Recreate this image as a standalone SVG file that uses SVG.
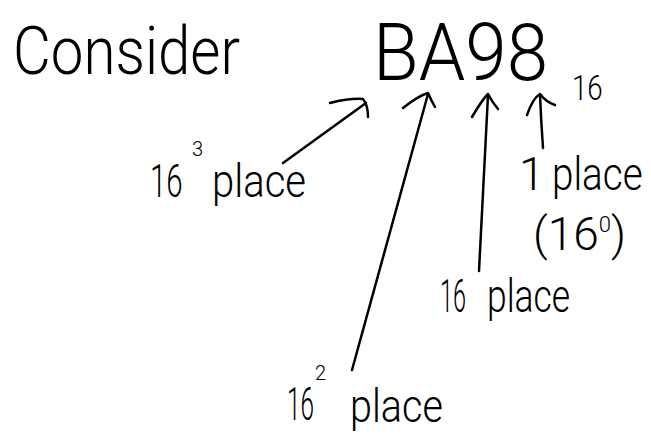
<svg xmlns="http://www.w3.org/2000/svg" width="651" height="445" viewBox="0 0 651 445">
<style>
text{font-family:Roboto,"Liberation Sans",Arial,sans-serif;font-weight:300;fill:#000;}
.big{font-size:46px;}
.sup{font-size:20px;}
.ink{fill:none;stroke:#000;stroke-width:2.5;stroke-linecap:round;stroke-linejoin:round;}
</style>
<rect width="651" height="445" fill="#fff"/>
<g id="consider">
<text x="13" y="74" font-size="66" textLength="227" lengthAdjust="spacingAndGlyphs">Consider</text>
</g>
<g id="number">
<text x="373" y="80" font-size="80" textLength="175" lengthAdjust="spacingAndGlyphs">BA98</text>
<text transform="translate(572 100) scale(0.77 1)" font-size="36">16</text>
</g>
<g id="label-16-3">
<text class="big" transform="translate(150 197) scale(0.64 1)">16</text>
<text class="sup" x="192" y="156">3</text>
<text class="big" transform="translate(212 197) scale(0.87 1)">place</text>
</g>
<g id="label-16-2">
<text class="big" transform="translate(287 420) scale(0.53 1)">16</text>
<text class="sup" x="315" y="380">2</text>
<text class="big" transform="translate(350 422) scale(0.86 1)">place</text>
</g>
<g id="label-16">
<text class="big" transform="translate(440 312) scale(0.51 1)">16</text>
<text class="big" transform="translate(487 312) scale(0.77 1)">place</text>
</g>
<g id="label-1">
<text class="big" x="519" y="190">1</text>
<text class="big" transform="translate(552 190) scale(0.84 1)">place</text>
<text class="big" x="533" y="250">(16<tspan font-size="22" dy="-18">0</tspan><tspan dy="18">)</tspan></text>
</g>
<g id="connectors">
<path class="ink" d="M283 163 L366 103"/>
<path class="ink" d="M330 103 Q350 98 363 99 Q368 105 368 117"/>
<path class="ink" d="M352 370 L428 94"/>
<path class="ink" d="M403 108 Q418 96 428 93 Q431 100 435 107"/>
<path class="ink" d="M479 271 L488 95"/>
<path class="ink" d="M472 117 Q482 100 488 94 Q492 102 498 109"/>
<path class="ink" d="M543 148 Q541 120 540 95"/>
<path class="ink" d="M527 115 Q533 98 540 94 Q546 102 555 105"/>
</g>
</svg>
